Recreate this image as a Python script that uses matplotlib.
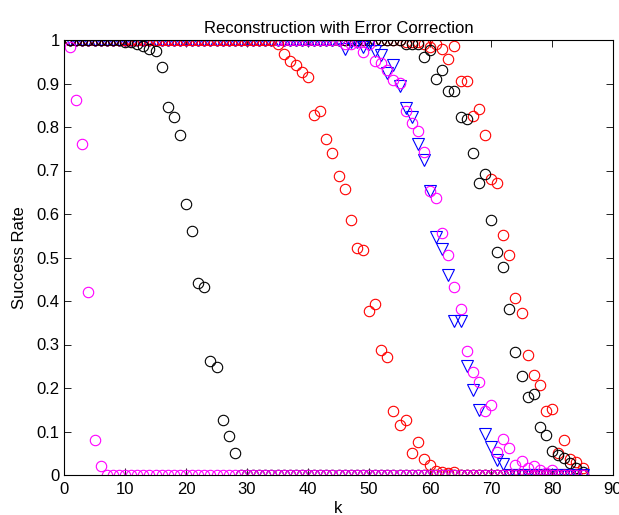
import numpy as np
import matplotlib
matplotlib.use('Agg')
import matplotlib.pyplot as plt

plt.rcParams['font.family'] = ['Liberation Sans', 'DejaVu Sans']

# k = 1 .. 85
k = np.arange(1, 86)

# success rates, one list per curve
red_late = [1.0] * 55 + [
    0.995, 0.995, 0.995, 0.99, 0.985, 0.99, 0.98, 0.956, 0.987, 0.906,
    0.906, 0.826, 0.841, 0.781, 0.681, 0.672, 0.551, 0.506, 0.406, 0.372,
    0.277, 0.23, 0.206, 0.146, 0.151, 0.05, 0.08, 0.036, 0.031, 0.015]

black_late = [1.0] * 55 + [
    0.99, 0.99, 0.99, 0.962, 0.978, 0.911, 0.931, 0.882, 0.882, 0.822,
    0.818, 0.741, 0.672, 0.692, 0.586, 0.512, 0.478, 0.382, 0.283, 0.227,
    0.18, 0.186, 0.111, 0.092, 0.056, 0.046, 0.038, 0.028, 0.015, 0.008]

blue_tri = [1.0] * 45 + [
    0.98, 0.995, 0.995, 0.983, 0.99, 0.975, 0.965, 0.925, 0.942, 0.895,
    0.843, 0.824, 0.76, 0.724, 0.653, 0.548, 0.52, 0.459, 0.353, 0.353,
    0.25, 0.196, 0.15, 0.094, 0.065, 0.035, 0.025] + [0.0] * 13

magenta_late = [1.0] * 45 + [
    0.99, 0.99, 0.996, 0.972, 0.99, 0.952, 0.948, 0.93, 0.909, 0.902,
    0.837, 0.81, 0.791, 0.743, 0.653, 0.636, 0.557, 0.506, 0.432, 0.382,
    0.286, 0.237, 0.213, 0.146, 0.161, 0.054, 0.082, 0.061, 0.023, 0.032,
    0.015, 0.021, 0.012, 0.005, 0.012] + [0.0] * 5

red_mid = [1.0] * 34 + [
    0.991, 0.968, 0.952, 0.942, 0.927, 0.916, 0.827, 0.837, 0.772, 0.741,
    0.687, 0.657, 0.587, 0.521, 0.517, 0.376, 0.392, 0.287, 0.271, 0.146,
    0.116, 0.127, 0.051, 0.077, 0.036, 0.023, 0.01, 0.008, 0.004, 0.008] + [0.0] * 21

black_early = [1.0] * 9 + [
    0.995, 0.995, 0.99, 0.987, 0.98, 0.975, 0.937, 0.846, 0.823, 0.781,
    0.622, 0.562, 0.442, 0.432, 0.261, 0.248, 0.127, 0.09, 0.051] + [0.0] * 57

magenta_early = [0.984, 0.862, 0.76, 0.42, 0.08, 0.02] + [0.0] * 79

# matlab style pure colours
RED, BLACK, BLUE, MAGENTA = '#ff0000', '#000000', '#0000ff', '#ff00ff'

series = [
    (red_late, RED, 'o'),
    (black_late, BLACK, 'o'),
    (blue_tri, BLUE, 'v'),
    (magenta_late, MAGENTA, 'o'),
    (red_mid, RED, 'o'),
    (black_early, BLACK, 'o'),
    (magenta_early, MAGENTA, 'o'),
]

fig = plt.figure(figsize=(6.19, 5.15), dpi=100)
ax = fig.add_axes([64 / 619, 1 - 475 / 515, (613 - 64) / 619, (475 - 40) / 515])

for vals, col, mk in series:
    ax.plot(k, vals, linestyle='none', marker=mk, markersize=7.5 if mk == 'o' else 8.5,
            markerfacecolor='none', markeredgecolor=col, markeredgewidth=0.8)

ax.set_xlim(0, 90)
ax.set_ylim(0, 1)
ax.set_xticks(np.arange(0, 91, 10))
ax.set_yticks(np.arange(0, 1.01, 0.1))
ax.set_yticklabels(['0', '0.1', '0.2', '0.3', '0.4', '0.5', '0.6', '0.7', '0.8', '0.9', '1'])
ax.tick_params(direction='in', length=5, width=0.6, top=True, right=True,
               labelsize=12)
ax.tick_params(axis='x', pad=5)
ax.tick_params(axis='y', pad=3)
for sp in ax.spines.values():
    sp.set_linewidth(0.8)

ax.set_xlabel('k', fontsize=12, labelpad=3)
ax.set_ylabel('Success Rate', fontsize=12, labelpad=7)
ax.set_title('Reconstruction with Error Correction', fontsize=12, pad=5)

fig.savefig('out.png', dpi=100)
